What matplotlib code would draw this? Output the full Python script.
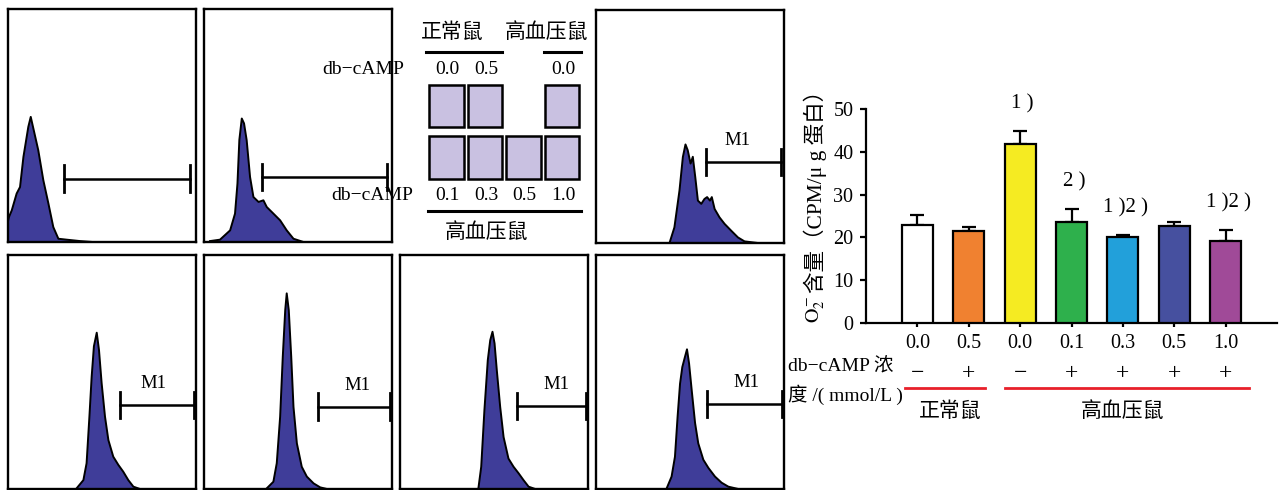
import matplotlib
matplotlib.use('Agg')
import matplotlib.pyplot as plt
from matplotlib.patches import Rectangle
import numpy as np

plt.rcParams['font.family'] = ['Liberation Serif', 'Noto Sans CJK SC']
plt.rcParams['mathtext.fontset'] = 'stix'

# ---------------- data ----------------
# flow-cytometry histogram outlines (fraction of panel width / height)
h1_x = [0.0, 0.005, 0.02, 0.046, 0.064, 0.082, 0.108, 0.121, 0.135, 0.161, 0.188, 0.215, 0.241, 0.268, 0.312, 0.383, 0.45]
h1_y = [0.09, 0.107, 0.136, 0.208, 0.236, 0.365, 0.494, 0.537, 0.487, 0.394, 0.265, 0.165, 0.064, 0.014, 0.01, 0.004, 0.0]
h2_x = [0.032, 0.085, 0.139, 0.165, 0.178, 0.188, 0.201, 0.213, 0.227, 0.245, 0.263, 0.290, 0.316, 0.334, 0.369, 0.405, 0.44, 0.476, 0.529]
h2_y = [0.004, 0.010, 0.050, 0.122, 0.251, 0.438, 0.530, 0.509, 0.437, 0.279, 0.193, 0.172, 0.179, 0.150, 0.122, 0.093, 0.050, 0.014, 0.0]
h3_x = [0.391, 0.417, 0.444, 0.462, 0.476, 0.488, 0.503, 0.515, 0.528, 0.542, 0.560, 0.577, 0.591, 0.606, 0.616, 0.631, 0.657, 0.684, 0.719, 0.755, 0.79, 0.861]
h3_y = [0.0, 0.067, 0.225, 0.369, 0.423, 0.398, 0.341, 0.370, 0.283, 0.182, 0.168, 0.189, 0.197, 0.182, 0.197, 0.146, 0.11, 0.082, 0.053, 0.024, 0.007, 0.0]
h4_x = [0.365, 0.401, 0.418, 0.433, 0.445, 0.457, 0.472, 0.484, 0.498, 0.516, 0.534, 0.560, 0.587, 0.613, 0.640, 0.667, 0.702]
h4_y = [0.003, 0.038, 0.110, 0.309, 0.480, 0.610, 0.668, 0.594, 0.453, 0.309, 0.209, 0.138, 0.103, 0.074, 0.038, 0.010, 0.0]
h5_x = [0.334, 0.369, 0.387, 0.405, 0.419, 0.432, 0.44, 0.451, 0.464, 0.476, 0.494, 0.52, 0.547, 0.583, 0.618, 0.654]
h5_y = [0.003, 0.031, 0.110, 0.309, 0.565, 0.764, 0.836, 0.764, 0.565, 0.351, 0.195, 0.095, 0.053, 0.024, 0.007, 0.0]
h6_x = [0.417, 0.432, 0.449, 0.467, 0.480, 0.492, 0.503, 0.515, 0.533, 0.551, 0.577, 0.604, 0.631, 0.657, 0.684, 0.719]
h6_y = [0.003, 0.095, 0.337, 0.551, 0.636, 0.672, 0.622, 0.507, 0.350, 0.222, 0.130, 0.095, 0.067, 0.038, 0.010, 0.0]
h7_x = [0.376, 0.402, 0.420, 0.434, 0.447, 0.459, 0.473, 0.484, 0.495, 0.509, 0.527, 0.544, 0.571, 0.598, 0.633, 0.668, 0.704, 0.757]
h7_y = [0.003, 0.053, 0.138, 0.309, 0.45, 0.521, 0.564, 0.597, 0.537, 0.423, 0.282, 0.195, 0.125, 0.09, 0.053, 0.027, 0.010, 0.0]

# M1 gate (start, end, height) per panel
gate_start = [0.30, 0.311, 0.586, 0.596, 0.609, 0.622, 0.589]
gate_end = [0.968, 0.973, 0.982, 0.989, 0.988, 0.989, 0.988]
gate_level = [0.272, 0.279, 0.347, 0.359, 0.352, 0.355, 0.363]
gate_label = ['', '', 'M1', 'M1', 'M1', 'M1', 'M1']

# bar chart
conc_labels = ['0.0', '0.5', '0.0', '0.1', '0.3', '0.5', '1.0']
treat_signs = ['−', '+', '−', '+', '+', '+', '+']
values = [22.9, 21.6, 41.9, 23.5, 20.1, 22.6, 19.1]
errors = [2.4, 0.9, 3.0, 3.1, 0.4, 0.9, 2.7]
sig_labels = ['', '', '1 )', '2 )', '1 )2 )', '', '1 )2 )']
bar_colors = ['#FFFFFF', '#F08130', '#F5EB22', '#2EB04C', '#22A0DA', '#46509F', '#A04A98']
yticks = [0, 10, 20, 30, 40, 50]

legend_top = ['0.0', '0.5', '', '0.0']
legend_bottom = ['0.1', '0.3', '0.5', '1.0']

# ---------------- layout ----------------
W, H = 1282, 490
fig = plt.figure(figsize=(W / 100, H / 100), dpi=100)


def px_axes(x0, y0, x1, y1, **kw):
    return fig.add_axes([x0 / W, 1 - y1 / H, (x1 - x0) / W, (y1 - y0) / H], **kw)


panels = [(8, 9, 196, 242), (204, 9, 392, 242), (596, 10, 784, 243),
          (8, 255, 196, 489), (204, 255, 392, 489), (400, 255, 588, 489), (596, 255, 784, 489)]
m1_text_x = [0, 0, 0.755, 0.773, 0.814, 0.831, 0.80]
hists = [(h1_x, h1_y), (h2_x, h2_y), (h3_x, h3_y), (h4_x, h4_y), (h5_x, h5_y), (h6_x, h6_y), (h7_x, h7_y)]

for i, (box, (hx, hy)) in enumerate(zip(panels, hists)):
    a = px_axes(*box)
    a.set_xlim(0, 1)
    a.set_ylim(0, 1)
    a.set_xticks([])
    a.set_yticks([])
    for s in a.spines.values():
        s.set_linewidth(1.7)
    a.fill_between(hx, hy, 0, facecolor='#3F3D99', edgecolor='none')
    a.plot(hx, hy, color='black', lw=1.4)
    g0, g1, gy = gate_start[i], gate_end[i], gate_level[i]
    a.plot([g0, g1], [gy, gy], color='black', lw=1.8)
    a.plot([g0, g0], [gy - 0.057, gy + 0.057], color='black', lw=2.0)
    a.plot([g1, g1], [gy - 0.057, gy + 0.057], color='black', lw=2.0)
    if gate_label[i]:
        a.text(m1_text_x[i], gy + 0.092, gate_label[i], ha='center', va='center', fontsize=13.5)

# bar chart axes
ax = px_axes(866, 109, 1277, 323)
pos = np.arange(len(values))
ax.bar(pos, values, width=0.6, color=bar_colors, edgecolor='black', linewidth=1.6, zorder=3)
ax.errorbar(pos, values, yerr=[np.zeros(len(values)), errors], fmt='none', ecolor='black',
            elinewidth=1.6, capsize=5, capthick=1.6, zorder=2)
ax.set_xlim(-1, 7)
ax.set_ylim(0, 50)
for s in ['top', 'right']:
    ax.spines[s].set_visible(False)
for s in ['left', 'bottom']:
    ax.spines[s].set_linewidth(1.6)
ax.set_yticks(yticks)
ax.set_yticklabels([str(t) for t in yticks])
ax.set_xticks(pos)
ax.set_xticklabels(conc_labels)
ax.tick_params(axis='y', direction='out', length=4, width=1.6, labelsize=14.5, pad=5)
ax.tick_params(axis='x', direction='out', length=3, width=1.6, labelsize=14.5, pad=5)
for i, lab in enumerate(sig_labels):
    if lab:
        ax.text(i + 0.05, values[i] + errors[i] + 6.3, lab, ha='center', va='center', fontsize=15, clip_on=False)

xt = ax.get_xaxis_transform()
for i, sgn in enumerate(treat_signs):
    ax.text(i, -0.234, sgn, transform=xt, ha='center', va='center', fontsize=17, clip_on=False)
ax.plot([-0.25, 1.32], [-0.304, -0.304], transform=xt, color='#E8202A', lw=2.0, clip_on=False)
ax.plot([1.71, 6.45], [-0.304, -0.304], transform=xt, color='#E8202A', lw=2.0, clip_on=False)
ax.text(0.64, -0.415, '正常鼠', transform=xt, ha='center', va='center', fontsize=15, clip_on=False)
ax.text(4.0, -0.415, '高血压鼠', transform=xt, ha='center', va='center', fontsize=15, clip_on=False)

# overlay in pixel coordinates for annotations
ov = fig.add_axes([0, 0, 1, 1], zorder=20)
ov.set_xlim(0, W)
ov.set_ylim(H, 0)
ov.axis('off')

# y label of bar chart
ov.text(816, 323, r'$\mathrm{O}_2^-$', rotation=90, ha='center', va='bottom', fontsize=14.5)
ov.text(815, 293, '含量（CPM/μ g 蛋白）', rotation=90, ha='center', va='bottom', fontsize=15.5)

ov.text(788, 367, 'db−cAMP 浓', ha='left', va='center', fontsize=14)
ov.text(788, 395, '度 /( mmol/L )', ha='left', va='center', fontsize=14)

# middle legend
ov.text(452, 33, '正常鼠', ha='center', va='center', fontsize=15)
ov.text(547, 33, '高血压鼠', ha='center', va='center', fontsize=15)
ov.plot([426, 502], [52, 52], color='black', lw=2.2)
ov.plot([544, 581], [52, 52], color='black', lw=2.2)
ov.plot([428, 581], [211, 211], color='black', lw=2.2)
ov.text(363, 70, 'db−cAMP', ha='center', va='center', fontsize=14)
ov.text(372, 195, 'db−cAMP', ha='center', va='center', fontsize=14)
slot_x = [(429, 464), (468, 502), (506, 541), (545, 579)]
for (x0, x1), lab in zip(slot_x, legend_top):
    if lab:
        ov.text((x0 + x1) / 2 + 1, 70, lab, ha='center', va='center', fontsize=14)
        ov.add_patch(Rectangle((x0, 85), x1 - x0, 42, facecolor='#C9C1E1', edgecolor='black', lw=1.8))
for (x0, x1), lab in zip(slot_x, legend_bottom):
    ov.text((x0 + x1) / 2 + 1, 195, lab, ha='center', va='center', fontsize=14)
    ov.add_patch(Rectangle((x0, 136), x1 - x0, 43, facecolor='#C9C1E1', edgecolor='black', lw=1.8))
ov.text(487, 233, '高血压鼠', ha='center', va='center', fontsize=15)

fig.savefig('out.png', dpi=100)
